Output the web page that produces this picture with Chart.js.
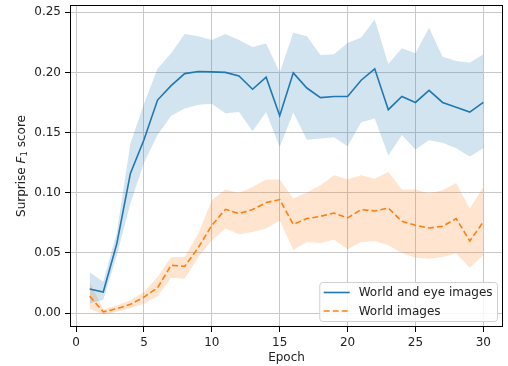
<!DOCTYPE html>
<html>
<head>
<meta charset="utf-8">
<script src="https://cdn.jsdelivr.net/npm/chart.js@4/dist/chart.umd.min.js"></script>
<style>
  html, body { margin: 0; padding: 0; background: #fff; }
  canvas { display: block; }
</style>
</head>
<body>
<canvas id="wykres" width="508" height="366"></canvas>
<script>
// dane
const epochs = [1, 2, 3, 4, 5, 6, 7, 8, 9, 10, 11, 12, 13, 14, 15, 16, 17, 18, 19, 20, 21, 22, 23, 24, 25, 26, 27, 28, 29, 30];

const worldEyeMean = [0.020, 0.0175, 0.0577, 0.116, 0.144, 0.177, 0.189, 0.199, 0.2007, 0.2004,
  0.200, 0.197, 0.186, 0.196, 0.164, 0.1996, 0.187, 0.179, 0.180, 0.180,
  0.1935, 0.203, 0.169, 0.180, 0.175, 0.185, 0.175, 0.171, 0.167, 0.175];
const worldEyeUpper = [0.034, 0.026, 0.067, 0.141, 0.174, 0.203, 0.216, 0.232, 0.230, 0.227,
  0.232, 0.227, 0.221, 0.224, 0.200, 0.233, 0.230, 0.2145, 0.215, 0.2245,
  0.229, 0.244, 0.207, 0.220, 0.216, 0.237, 0.213, 0.2095, 0.208, 0.215];
const worldEyeLower = [0.008, 0.011, 0.048, 0.091, 0.125, 0.148, 0.164, 0.170, 0.173, 0.174,
  0.166, 0.167, 0.151, 0.167, 0.138, 0.1666, 0.144, 0.145, 0.146, 0.1386,
  0.1585, 0.1616, 0.131, 0.148, 0.136, 0.1436, 0.1416, 0.137, 0.130, 0.137];

const worldMean = [0.014, 0.001, 0.0036, 0.0072, 0.0133, 0.021, 0.0397, 0.0388, 0.0544, 0.0729,
  0.0862, 0.0826, 0.086, 0.0918, 0.0943, 0.0737, 0.0785, 0.0804, 0.0831, 0.079,
  0.086, 0.0848, 0.0873, 0.0762, 0.0729, 0.0707, 0.0721, 0.0785, 0.0599, 0.0757];
const worldUpper = [0.026, 0.003, 0.0064, 0.0106, 0.0175, 0.030, 0.0466, 0.0466, 0.066, 0.0937,
  0.1026, 0.0998, 0.1048, 0.111, 0.111, 0.0951, 0.1001, 0.1062, 0.1145, 0.1112,
  0.1145, 0.1117, 0.1172, 0.1026, 0.1026, 0.0993, 0.102, 0.1081, 0.0868, 0.1048];
const worldLower = [0.0036, -0.001, 0.001, 0.004, 0.0078, 0.0139, 0.0294, 0.0286, 0.0466, 0.0604,
  0.0702, 0.0654, 0.0673, 0.0702, 0.077, 0.0527, 0.059, 0.0582, 0.061, 0.053,
  0.059, 0.0599, 0.0563, 0.0499, 0.046, 0.0452, 0.0466, 0.0494, 0.0377, 0.048];

const seriesLabels = ["World and eye images", "World images"];
const xTicks = [0, 5, 10, 15, 20, 25, 30];
const yTicks = [0.00, 0.05, 0.10, 0.15, 0.20, 0.25];

const NIEBIESKI = "#1f77b4";
const POMARANCZ = "#ff7f0e";

Chart.defaults.font.family = "'DejaVu Sans', sans-serif";
Chart.defaults.font.size = 12;
Chart.defaults.color = "#222";

function punkty(wartosci) {
  return epochs.map((e, i) => ({ x: e, y: wartosci[i] }));
}

function pasmo(wartosci, kolor, fill) {
  return {
    data: punkty(wartosci),
    borderWidth: 0,
    borderColor: "transparent",
    backgroundColor: kolor,
    pointRadius: 0,
    fill: fill,
    isBand: true,
  };
}

// tytul osi Y z kursywa i indeksem dolnym
const tytulOsiY = {
  id: "tytulOsiY",
  afterDraw(chart) {
    const ctx = chart.ctx;
    const area = chart.chartArea;
    const czesci = [
      { t: "Surprise ", f: "12px 'DejaVu Sans'", dy: 0 },
      { t: "F", f: "italic 12px 'DejaVu Sans'", dy: 0 },
      { t: "1", f: "8.5px 'DejaVu Sans'", dy: 2.5 },
      { t: " score", f: "12px 'DejaVu Sans'", dy: 0 },
    ];
    ctx.save();
    let szer = 0;
    czesci.forEach((c) => { ctx.font = c.f; szer += ctx.measureText(c.t).width; });
    ctx.translate(22, (area.top + area.bottom) / 2);
    ctx.rotate(-Math.PI / 2);
    ctx.fillStyle = "#222";
    ctx.textBaseline = "middle";
    let x = -szer / 2;
    czesci.forEach((c) => {
      ctx.font = c.f;
      ctx.fillText(c.t, x, c.dy);
      x += ctx.measureText(c.t).width;
    });
    ctx.restore();
  },
};

// ramka wokol obszaru wykresu
const ramka = {
  id: "ramka",
  afterDraw(chart) {
    const a = chart.chartArea;
    const ctx = chart.ctx;
    ctx.save();
    ctx.strokeStyle = "#000";
    ctx.lineWidth = 1;
    ctx.strokeRect(Math.round(a.left) + 0.5, Math.round(a.top) + 0.5,
      Math.round(a.right - a.left) - 1, Math.round(a.bottom - a.top) - 1);
    ctx.restore();
  },
};

// legenda w prawym dolnym rogu, jak w matplotlib
const legenda = {
  id: "legenda",
  afterDraw(chart) {
    const ctx = chart.ctx;
    const a = chart.chartArea;
    const linie = chart.data.datasets.filter((d) => !d.isBand);
    ctx.save();
    ctx.font = "12px 'DejaVu Sans'";
    const maxTekst = Math.max(...linie.map((d) => ctx.measureText(d.label).width));
    const prawo = a.right - 6;
    const dol = a.bottom - 6;
    const wys = 39;
    const szer = 4.4 + 26 + 9 + maxTekst + 4.4;
    const lewo = prawo - szer;
    const gora = dol - wys;
    ctx.beginPath();
    ctx.roundRect(lewo + 0.5, gora + 0.5, szer, wys, 3);
    ctx.fillStyle = "rgba(255,255,255,0.85)";
    ctx.fill();
    ctx.strokeStyle = "#d0d0d0";
    ctx.lineWidth = 1;
    ctx.stroke();
    linie.forEach((d, i) => {
      const y = gora + 10.5 + i * 18.5;
      ctx.beginPath();
      ctx.setLineDash(d.borderDash || []);
      ctx.strokeStyle = d.borderColor;
      ctx.lineWidth = d.borderWidth;
      ctx.moveTo(lewo + 4.4, y);
      ctx.lineTo(lewo + 30.4, y);
      ctx.stroke();
      ctx.setLineDash([]);
      ctx.fillStyle = "#222";
      ctx.textBaseline = "middle";
      ctx.fillText(d.label, lewo + 39.4, y + 0.5);
    });
    ctx.restore();
  },
};

new Chart(document.getElementById("wykres"), {
  type: "line",
  data: {
    datasets: [
      {
        label: seriesLabels[0],
        data: punkty(worldEyeMean),
        borderColor: NIEBIESKI,
        borderWidth: 1.6,
        pointRadius: 0,
        fill: false,
      },
      {
        label: seriesLabels[1],
        data: punkty(worldMean),
        borderColor: POMARANCZ,
        borderWidth: 1.6,
        borderDash: [6, 3],
        pointRadius: 0,
        fill: false,
      },
      pasmo(worldEyeUpper, "rgba(31,119,180,0.2)", "+1"),
      pasmo(worldEyeLower, "rgba(31,119,180,0)", false),
      pasmo(worldUpper, "rgba(255,127,14,0.2)", "+1"),
      pasmo(worldLower, "rgba(255,127,14,0)", false),
    ],
  },
  options: {
    responsive: false,
    animation: false,
    layout: { padding: { top: 5, right: 5, left: 0, bottom: 0 } },
    elements: { line: { tension: 0 } },
    plugins: {
      legend: { display: false },
      tooltip: { enabled: false },
    },
    scales: {
      x: {
        type: "linear",
        min: -0.45,
        max: 31.45,
        afterBuildTicks: (s) => { s.ticks = xTicks.map((v) => ({ value: v })); },
        afterFit: (s) => { s.height = 39; s.paddingLeft = 0; s.paddingRight = 0; },
        ticks: { padding: 4, maxRotation: 0, callback: (v) => String(v) },
        grid: { color: "#c8c8c8", lineWidth: 1, tickColor: "#000", tickLength: 5 },
        border: { display: false },
        title: { display: true, text: "Epoch", padding: { top: 0, bottom: 1 } },
      },
      y: {
        type: "linear",
        min: -0.0116,
        max: 0.256,
        afterBuildTicks: (s) => { s.ticks = yTicks.map((v) => ({ value: v })); },
        afterFit: (s) => { s.width = 70; s.paddingTop = 0; s.paddingBottom = 0; },
        ticks: { padding: 4, callback: (v) => v.toFixed(2) },
        grid: { color: "#c8c8c8", lineWidth: 1, tickColor: "#000", tickLength: 5 },
        border: { display: false },
      },
    },
  },
  plugins: [tytulOsiY, ramka, legenda],
});
</script>
</body>
</html>
